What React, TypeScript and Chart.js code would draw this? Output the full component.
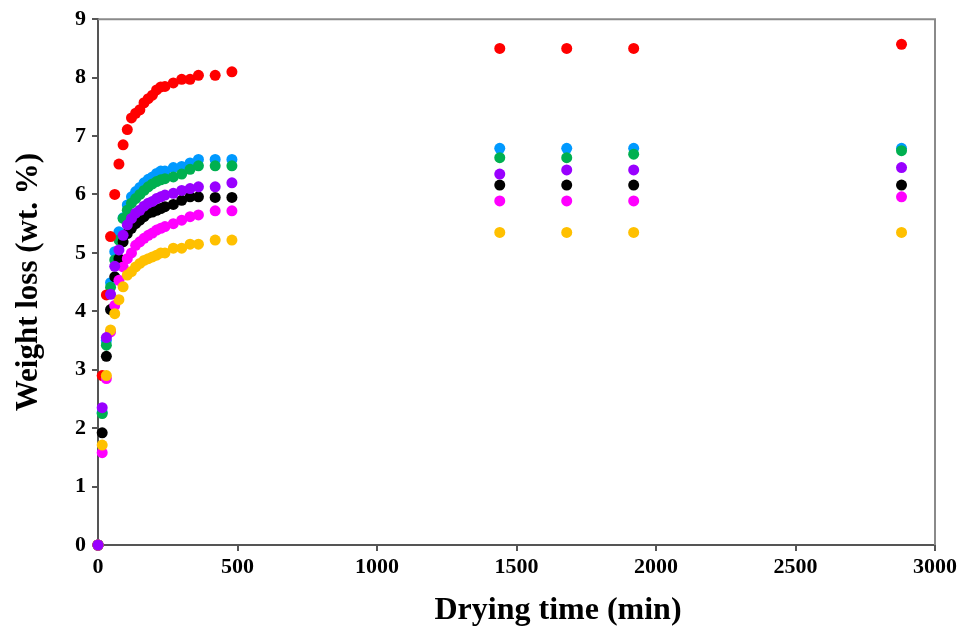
import React, { useEffect, useRef } from "react";
import { Chart, registerables } from "chart.js";

Chart.register(...registerables);

const timesMin = [0, 15, 30, 45, 60, 75, 90, 105, 120, 135, 150, 165, 180, 195, 210, 225, 240, 270, 300, 330, 360, 420, 480, 1440, 1680, 1920, 2880];

const seriesPurple = [0, 2.35, 3.55, 4.29, 4.77, 5.05, 5.3, 5.48, 5.59, 5.68, 5.73, 5.8, 5.85, 5.88, 5.93, 5.96, 5.99, 6.02, 6.07, 6.1, 6.13, 6.13, 6.2, 6.35, 6.42, 6.42, 6.46];
const seriesYellow = [0, 1.71, 2.9, 3.68, 3.96, 4.2, 4.42, 4.62, 4.68, 4.76, 4.82, 4.87, 4.9, 4.93, 4.96, 5.0, 5.0, 5.08, 5.08, 5.15, 5.15, 5.22, 5.22, 5.35, 5.35, 5.35, 5.35];
const seriesMagenta = [0, 1.58, 2.85, 3.65, 4.1, 4.53, 4.76, 4.9, 5.0, 5.13, 5.19, 5.25, 5.3, 5.34, 5.39, 5.42, 5.45, 5.5, 5.56, 5.62, 5.65, 5.72, 5.72, 5.89, 5.89, 5.89, 5.96];
const seriesBlack = [0, 1.92, 3.23, 4.03, 4.59, 4.9, 5.19, 5.33, 5.42, 5.5, 5.56, 5.62, 5.68, 5.7, 5.73, 5.76, 5.79, 5.83, 5.9, 5.96, 5.96, 5.95, 5.95, 6.16, 6.16, 6.16, 6.16];
const seriesRed = [0, 2.9, 4.28, 5.28, 6.0, 6.52, 6.85, 7.11, 7.31, 7.39, 7.45, 7.57, 7.64, 7.7, 7.79, 7.84, 7.85, 7.91, 7.97, 7.97, 8.04, 8.04, 8.1, 8.5, 8.5, 8.5, 8.57];
const seriesGreen = [0, 2.25, 3.42, 4.41, 4.88, 5.22, 5.59, 5.73, 5.85, 5.93, 6.0, 6.07, 6.13, 6.18, 6.22, 6.25, 6.27, 6.3, 6.35, 6.43, 6.49, 6.49, 6.49, 6.63, 6.63, 6.69, 6.75];
const seriesBlue = [0, 2.27, 3.5, 4.49, 5.02, 5.36, 5.6, 5.82, 5.96, 6.05, 6.12, 6.2, 6.26, 6.3, 6.36, 6.4, 6.4, 6.46, 6.48, 6.54, 6.6, 6.6, 6.6, 6.79, 6.79, 6.79, 6.79];

const seriesNames = ["Purple", "Yellow", "Magenta", "Black", "Red", "Green", "Blue"];
const seriesColors = ["#9900FF", "#FFC000", "#FF00FF", "#000000", "#FF0000", "#00B050", "#0099FF"];
const seriesValues = [seriesPurple, seriesYellow, seriesMagenta, seriesBlack, seriesRed, seriesGreen, seriesBlue];

const xTitle = "Drying time (min)";
const yTitle = "Weight loss (wt. %)";

const FONT = "'Liberation Serif', 'Times New Roman', serif";

const framePlugin = {
  id: "frame",
  beforeDatasetsDraw(chart: any) {
    const { ctx, chartArea } = chart;
    ctx.save();
    ctx.strokeStyle = "#8a8a8a";
    ctx.lineWidth = 2;
    ctx.beginPath();
    ctx.moveTo(chartArea.left, chartArea.top);
    ctx.lineTo(chartArea.right, chartArea.top);
    ctx.lineTo(chartArea.right, chartArea.bottom);
    ctx.stroke();
    ctx.restore();
  },
  afterDraw(chart: any) {
    const { ctx } = chart;
    ctx.save();
    ctx.fillStyle = "#000";
    ctx.font = "bold 32px " + FONT;
    ctx.textAlign = "center";
    ctx.textBaseline = "middle";
    ctx.fillText(xTitle, 558, 611);
    ctx.restore();
  },
};

export default function App() {
  const ref = useRef<HTMLCanvasElement | null>(null);
  useEffect(() => {
    document.body.style.margin = "0";
    const canvas = ref.current;
    if (!canvas) return;
    const datasets = seriesNames.map((name, i) => ({
      label: name,
      data: timesMin.map((t, j) => ({ x: t, y: seriesValues[i][j] })),
      backgroundColor: seriesColors[i],
      borderColor: seriesColors[i],
      borderWidth: 0,
      pointRadius: 5.5,
      pointHoverRadius: 5.5,
      showLine: false,
      clip: false as any,
    }));
    const chart = new Chart(canvas, {
      type: "scatter",
      data: { datasets },
      options: {
        animation: false,
        responsive: false,
        maintainAspectRatio: false,
        layout: { padding: { left: 0, right: 36, top: 19, bottom: 0 } },
        plugins: { legend: { display: false }, tooltip: { enabled: false } },
        scales: {
          x: {
            type: "linear",
            min: 0,
            max: 3000,
            border: { display: true, color: "#555555", width: 2 },
            grid: { display: true, drawOnChartArea: false, drawTicks: true, tickLength: 6, color: "#555555", lineWidth: 2 },
            ticks: {
              stepSize: 500,
              color: "#000",
              padding: 3,
              maxRotation: 0,
              font: { family: FONT, size: 22, weight: "bold" },
              callback: (v: any) => String(v),
            },
            title: { display: false, text: xTitle },
            afterFit: (scale: any) => { scale.height = 85; },
          },
          y: {
            type: "linear",
            min: 0,
            max: 9,
            border: { display: true, color: "#555555", width: 2 },
            grid: { display: true, drawOnChartArea: false, drawTicks: true, tickLength: 6, color: "#555555", lineWidth: 2 },
            ticks: { stepSize: 1, color: "#000", padding: 6, font: { family: FONT, size: 22, weight: "bold" } },
            title: { display: true, text: yTitle, color: "#000", padding: { top: 10, bottom: 4 }, font: { family: FONT, size: 31, weight: "bold" } },
            afterFit: (scale: any) => { scale.width = 98; },
          },
        },
      },
      plugins: [framePlugin],
    } as any);
    return () => chart.destroy();
  }, []);
  return (
    <div style={{ width: 971, height: 630, background: "#fff" }}>
      <canvas ref={ref} width={971} height={630} style={{ display: "block" }} />
    </div>
  );
}
